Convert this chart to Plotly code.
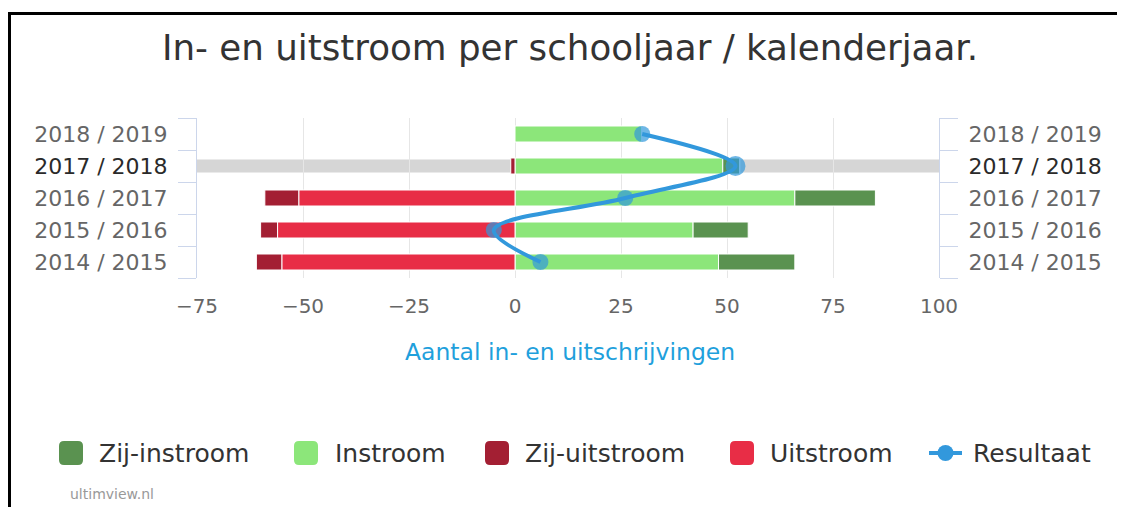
import plotly.graph_objects as go

# ---- data ----
categories = ["2014 / 2015", "2015 / 2016", "2016 / 2017", "2017 / 2018", "2018 / 2019"]
instroom = [48, 42, 66, 49, 30]
zij_instroom = [18, 13, 19, 4, 0]
uitstroom = [-55, -56, -51, 0, 0]
zij_uitstroom = [-6, -4, -8, -1, 0]
resultaat = [6, -5, 26, 52, 30]
highlight = "2017 / 2018"

legend_names = ["Zij-instroom", "Instroom", "Zij-uitstroom", "Uitstroom", "Resultaat"]
x_ticks = [-75, -50, -25, 0, 25, 50, 75, 100]

C_ZIJIN = "#5a9250"
C_IN = "#8ce67a"
C_ZIJUIT = "#a31f33"
C_UIT = "#e82d46"
C_RES = "#3298dc"
FONT = "DejaVu Sans"

OFF = 8  # page body margin
W, H = 1125 - OFF, 507 - OFF
# plot area in page pixels: x 197..939, y 118..278
ML, MT = 197 - OFF, 118 - OFF
MR, MB = W - (939 - OFF), H - (278 - OFF)
PW, PH = W - ML - MR, H - MT - MB


def px(x):  # page pixel x -> paper
    return (x - OFF - ML) / PW


def py(y):  # page pixel y -> paper
    return (H - MB - (y - OFF)) / PH


fig = go.Figure()
bar_line = dict(color="white", width=1)
fig.add_trace(go.Bar(y=categories, x=instroom, orientation="h", name="Instroom",
                     marker=dict(color=C_IN, line=bar_line), showlegend=False))
fig.add_trace(go.Bar(y=categories, x=zij_instroom, orientation="h", name="Zij-instroom",
                     marker=dict(color=C_ZIJIN, line=bar_line), showlegend=False))
fig.add_trace(go.Bar(y=categories, x=uitstroom, orientation="h", name="Uitstroom",
                     marker=dict(color=C_UIT, line=bar_line), showlegend=False))
fig.add_trace(go.Bar(y=categories, x=zij_uitstroom, orientation="h", name="Zij-uitstroom",
                     marker=dict(color=C_ZIJUIT, line=bar_line), showlegend=False))
sizes = [20 if c == highlight else 16 for c in categories]
fig.add_trace(go.Scatter(y=categories, x=resultaat, mode="lines+markers", name="Resultaat",
                         line=dict(color=C_RES, width=4, shape="spline"),
                         marker=dict(color=C_RES, size=sizes, line=dict(width=0)),
                         showlegend=False))
# helper trace so the right-hand category axis is drawn
fig.add_trace(go.Scatter(y=categories, x=[0] * len(categories), yaxis="y2", mode="markers",
                         marker=dict(opacity=0), hoverinfo="skip", showlegend=False))

ticktext = [
    (f"<span style='color:#2a2a2a'>{c}</span>" if c == highlight else c) for c in categories
]
yax = dict(type="category", categoryorder="array", categoryarray=categories,
           range=[-0.5, len(categories) - 0.5], tickson="boundaries", ticks="outside",
           ticklen=18, tickcolor="#ccd6eb", showline=True, linecolor="#ccd6eb", linewidth=1,
           showgrid=False, tickmode="array", tickvals=categories, ticktext=ticktext,
           tickfont=dict(family=FONT, size=22, color="#666666"), ticklabelstandoff=24,
           fixedrange=True)

fig.update_layout(
    width=W, height=H,
    margin=dict(l=ML, r=MR, t=MT, b=MB, pad=0),
    paper_bgcolor="white", plot_bgcolor="white",
    barmode="relative", bargap=0.5,
    showlegend=False,
    title=dict(text="In- en uitstroom per schooljaar / kalenderjaar.", x=px(570), xref="paper",
               xanchor="center", y=1 - (48 - OFF) / H, yanchor="middle",
               font=dict(family=FONT, size=35.7, color="#333333")),
    xaxis=dict(range=[-75, 100], tickmode="array", tickvals=x_ticks, showgrid=True,
               gridcolor="#e6e6e6", gridwidth=1, zeroline=False, showline=False, ticks="",
               tickfont=dict(family=FONT, size=20, color="#666666"), ticklabelstandoff=14),
    yaxis=yax,
    yaxis2=dict(yax, overlaying="y", side="right"),
    font=dict(family=FONT),
)

shapes = []
# highlighted category band
idx = categories.index(highlight)
shapes.append(dict(type="rect", xref="paper", yref="y", x0=0, x1=1, y0=idx - 0.2, y1=idx + 0.2,
                   fillcolor="#d6d6d6", line=dict(width=0), layer="below"))
# frame lines
shapes.append(dict(type="line", xref="paper", yref="paper", x0=px(8), x1=px(1125), y0=py(13.5),
                   y1=py(13.5), line=dict(color="black", width=3)))
shapes.append(dict(type="line", xref="paper", yref="paper", x0=px(9.5), x1=px(9.5), y0=py(12),
                   y1=py(507), line=dict(color="black", width=3)))

annotations = []
# x axis title
annotations.append(dict(text="Aantal in- en uitschrijvingen", xref="paper", yref="paper",
                        x=px(570), y=py(352), xanchor="center", yanchor="middle",
                        showarrow=False, font=dict(family=FONT, size=23.5, color="#1fa0dc")))
# legend
leg_y = 453
leg_colors = [C_ZIJIN, C_IN, C_ZIJUIT, C_UIT]
leg_marker_x = [71, 306, 497, 742]
leg_text_x = [97, 333, 523, 768, 971]
r, c = 12, 5
for name, col, mx in zip(legend_names[:4], leg_colors, leg_marker_x):
    x0, x1, y0, y1 = mx - r, mx + r, leg_y - r, leg_y + r
    path = (f"M {px(x0+c)},{py(y0)} L {px(x1-c)},{py(y0)} "
            f"Q {px(x1)},{py(y0)} {px(x1)},{py(y0+c)} L {px(x1)},{py(y1-c)} "
            f"Q {px(x1)},{py(y1)} {px(x1-c)},{py(y1)} L {px(x0+c)},{py(y1)} "
            f"Q {px(x0)},{py(y1)} {px(x0)},{py(y1-c)} L {px(x0)},{py(y0+c)} "
            f"Q {px(x0)},{py(y0)} {px(x0+c)},{py(y0)} Z")
    shapes.append(dict(type="path", xref="paper", yref="paper", path=path,
                       fillcolor=col, line=dict(width=0)))
shapes.append(dict(type="line", xref="paper", yref="paper", x0=px(929), x1=px(962),
                   y0=py(leg_y), y1=py(leg_y), line=dict(color=C_RES, width=4)))
shapes.append(dict(type="circle", xref="paper", yref="paper", x0=px(945.5 - 8), x1=px(945.5 + 8),
                   y0=py(leg_y + 8), y1=py(leg_y - 8), fillcolor=C_RES, line=dict(width=0)))
for name, tx in zip(legend_names, leg_text_x):
    annotations.append(dict(text=name, xref="paper", yref="paper", x=px(tx), y=py(leg_y),
                            xanchor="left", yanchor="middle", showarrow=False,
                            font=dict(family=FONT, size=25, color="#333333")))
# credit
annotations.append(dict(text="ultimview.nl", xref="paper", yref="paper", x=px(68), y=py(494),
                        xanchor="left", yanchor="middle", showarrow=False,
                        font=dict(family=FONT, size=14, color="#999999")))

fig.update_layout(shapes=shapes, annotations=annotations)
fig.write_html("out.html")
